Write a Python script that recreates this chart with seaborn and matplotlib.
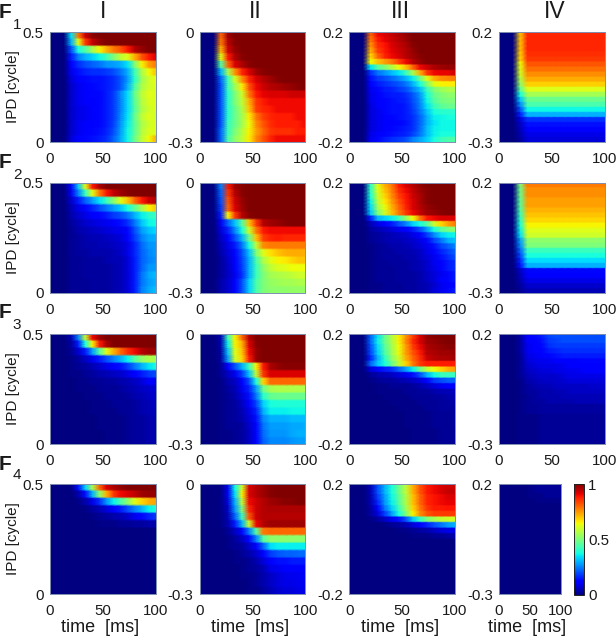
import numpy as np
import matplotlib
matplotlib.use('Agg')
import matplotlib.pyplot as plt
import seaborn as sns

# response values in percent, rows run top to bottom of each panel
# columns are t = 20, 26.7, 33.3 ... 100 ms, everything before 20 ms is zero
N_LEAD = 3
N_STORED = 13
ZERO = [0] * N_STORED

f1_i = [
    [35,78,93,99,100,100,100,100,100,100,100,100,100],
    [30,62,85,94,98,100,100,100,100,100,100,100,100],
    [20,38,45,55,65,72,78,82,88,95,98,100,100],
    [15,25,30,33,37,42,50,58,62,72,82,88,92],
    [12,17,20,22,24,27,28,30,35,50,65,74,78],
    [10,14,16,17,17,18,20,24,30,42,56,64,70],
    [8,12,13,14,14,15,17,21,28,40,54,60,63],
    [7,10,12,13,14,15,17,21,30,44,56,60,62],
    [7,10,12,13,13,15,18,26,34,47,58,62,62],
    [7,10,11,12,13,15,18,25,34,46,57,61,62],
    [7,9,10,12,13,15,18,25,34,45,56,60,62],
    [7,9,10,12,13,15,18,26,35,47,58,62,60],
    [7,10,11,12,13,15,19,27,36,46,56,60,62],
    [7,10,12,13,14,16,20,28,37,46,57,61,62],
    [8,11,13,14,15,17,22,29,37,48,58,64,72],
]
f1_ii = [
    [80,97,100,100,100,100,100,100,100,100,100,100,100],
    [78,95,99,100,100,100,100,100,100,100,100,100,100],
    [72,93,98,100,100,100,100,100,100,100,100,100,100],
    [62,88,96,99,100,100,100,100,100,100,100,100,100],
    [45,80,92,96,99,100,100,100,100,100,100,100,100],
    [30,55,75,87,92,97,99,100,100,100,100,100,100],
    [22,42,60,75,87,92,95,97,99,100,100,100,100],
    [20,42,54,66,82,90,93,95,96,97,98,99,100],
    [20,40,50,60,78,88,91,92,92,92,93,93,93],
    [20,40,50,58,72,85,88,90,90,90,90,90,90],
    [20,40,48,56,70,84,87,88,90,90,90,90,90],
    [20,40,48,55,66,78,84,87,88,88,88,90,90],
    [20,42,48,55,64,76,82,86,88,88,88,88,90],
    [22,42,50,57,65,74,80,85,86,86,86,88,88],
    [22,44,52,58,66,76,82,87,90,90,90,90,90],
]
f1_iii = [
    [80,90,92,94,96,98,100,100,100,100,100,100,100],
    [78,88,91,93,95,97,100,100,100,100,100,100,100],
    [75,86,89,92,94,96,99,100,100,100,100,100,100],
    [72,84,88,91,93,95,98,100,100,100,100,100,100],
    [68,80,87,90,92,95,97,99,100,100,100,100,100],
    [64,70,74,78,84,90,95,98,100,100,100,100,100],
    [35,45,50,57,64,70,80,90,93,96,97,98,98],
    [17,24,27,31,35,42,55,72,85,90,91,91,93],
    [14,18,20,23,26,30,36,48,62,72,76,77,78],
    [12,15,17,19,21,24,30,38,50,62,65,66,66],
    [10,13,15,16,18,20,25,31,42,50,54,56,56],
    [9,12,14,15,15,17,21,27,38,47,50,52,52],
    [9,12,13,14,15,16,20,26,37,45,49,50,50],
    [8,11,13,14,14,15,19,25,35,42,46,48,48],
    [8,10,13,14,14,15,18,24,32,38,40,40,40],
    [8,10,12,13,14,15,17,22,30,36,37,38,38],
    [8,10,11,12,13,14,17,22,30,35,37,37,37],
    [8,10,12,13,14,15,17,23,31,36,37,37,37],
    [9,11,13,14,15,16,19,24,31,36,38,38,38],
    [10,13,15,17,18,20,25,29,33,38,42,44,45],
]
f1_iv = [
    [70]+[87]*12, [70]+[87]*12, [70]+[87]*12, [70]+[87]*12, [69]+[86]*12,
    [68]+[85]*12, [64]+[82]*12, [62]+[79]*12, [60]+[76]*12, [56]+[73]*12,
    [52]+[69]*12, [46]+[62]*12, [38]+[55]*12, [32]+[48]*12, [26]+[44]*12,
    [20]+[37]*12, [15]+[30]*12, [8]+[17]*12, [6]+[14]*12, [5]+[12]*12,
    [4]+[9]*12, [3]+[8]*12,
]

f2_i = [
    [12,32,62,88,96,100,100,100,100,100,100,100,100],
    [10,25,42,62,78,88,94,97,99,100,100,100,100],
    [7,15,22,28,35,42,52,62,70,80,88,93,95],
    [5,9,13,16,20,24,28,32,38,46,55,65,70],
    [4,7,9,11,13,15,18,20,24,30,36,40,42],
    [3,5,7,8,9,10,12,14,17,24,32,37,38],
    [2,4,5,6,7,8,9,10,13,20,28,32,34],
    [2,3,4,5,5,6,7,8,11,18,25,29,30],
    [2,3,4,4,5,5,6,7,9,16,23,27,28],
    [2,3,3,4,4,4,5,6,9,16,22,26,28],
    [2,2,3,3,3,4,5,5,8,15,22,25,27],
    [2,2,3,3,3,3,4,5,8,15,22,27,28],
    [2,2,3,3,3,3,4,5,8,15,24,29,31],
    [2,2,2,3,3,3,4,5,8,15,24,28,30],
    [2,2,2,3,3,3,4,5,8,15,25,29,32],
]
f2_ii = [
    [25,88,97,99,100,100,100,100,100,100,100,100,100],
    [22,85,95,99,100,100,100,100,100,100,100,100,100],
    [20,82,93,98,100,100,100,100,100,100,100,100,100],
    [18,80,92,97,100,100,100,100,100,100,100,100,100],
    [15,65,85,95,99,100,100,100,100,100,100,100,100],
    [10,22,32,45,70,85,95,97,98,99,100,100,100],
    [8,16,26,38,60,78,88,90,90,90,90,90,90],
    [6,12,20,30,48,70,84,87,88,87,87,87,87],
    [5,9,15,24,38,58,76,78,78,78,78,78,78],
    [4,8,13,20,32,50,62,67,70,72,73,73,72],
    [3,7,12,19,30,44,56,62,65,66,68,70,70],
    [3,6,11,18,30,42,52,58,61,62,64,64,64],
    [3,6,10,17,30,42,50,55,56,57,58,60,60],
    [4,7,12,20,33,44,50,53,54,55,55,56,56],
    [4,7,12,20,33,44,50,52,52,52,53,53,53],
]
f2_iii = [
    [40,63,72,78,88,92,95,98,100,100,100,100,100],
    [40,62,70,77,86,90,94,97,99,100,100,100,100],
    [38,60,68,76,84,89,93,96,99,100,100,100,100],
    [36,58,66,74,82,88,92,96,99,100,100,100,100],
    [34,55,63,72,80,87,92,95,98,99,100,100,100],
    [32,50,60,70,78,85,90,94,97,98,99,100,100],
    [15,30,33,36,42,52,64,78,88,90,92,92,92],
    [5,9,12,15,20,25,33,38,45,60,68,74,78],
    [3,5,6,8,10,12,15,20,28,38,46,50,52],
    [2,3,4,5,6,7,9,12,18,26,33,36,37],
    [2,3,4,5,5,6,7,9,13,19,24,30,32],
    [1,2,3,4,4,5,6,8,10,14,19,22,26],
    [1,2,3,3,4,4,5,6,9,12,16,19,22],
    [1,2,3,3,3,4,4,6,8,10,14,17,20],
    [1,2,2,3,3,3,4,5,7,10,12,15,17],
    [1,2,2,2,3,3,4,5,7,9,12,15,17],
    [1,2,2,2,3,3,3,4,6,8,10,13,15],
    [1,2,2,2,3,3,3,4,6,8,11,13,15],
    [1,1,2,2,2,3,3,4,5,7,10,12,13],
    [1,1,2,2,2,3,3,4,5,8,10,13,15],
]
f2_iv = [
    [50]+[78]*12, [48]+[76]*12, [48]+[76]*12, [46]+[74]*12, [46]+[74]*12,
    [44]+[72]*12, [42]+[70]*12, [40]+[68]*12, [38]+[65]*12, [36]+[62]*12,
    [34]+[60]*12, [28]+[52]*12, [26]+[50]*12, [22]+[42]*12, [19]+[38]*12,
    [16]+[34]*12, [14]+[30]*12, [6]+[13]*12, [5]+[11]*12, [4]+[9]*12,
    [3]+[7]*12, [2]+[5]*12,
]

f3_i = [
    [5,25,58,90,97,100,100,100,100,100,100,100,100],
    [3,15,38,65,88,96,100,100,100,100,100,100,100],
    [2,7,15,28,45,62,72,80,86,90,95,97,97],
    [1,3,6,10,15,20,25,30,36,45,52,56,55],
    [1,2,3,5,7,9,12,14,18,24,30,35,38],
    [1,1,2,3,4,5,6,7,9,11,15,18,20],
    [0,1,1,2,2,3,3,4,5,6,8,11,12],
    [0,1,1,1,2,2,2,3,4,5,6,7,8],
    [0,0,1,1,1,2,2,2,3,4,5,6,7],
    [0,0,0,1,1,1,2,2,2,3,4,5,6],
    [0,0,0,1,1,1,1,2,2,3,4,5,5],
    [0,0,0,0,1,1,1,1,2,3,3,4,5],
    [0,0,0,0,1,1,1,1,2,3,3,4,4],
    [0,0,0,0,0,1,1,1,2,3,3,4,4],
    [0,0,0,0,0,1,1,1,2,3,3,4,4],
]
f3_ii = [
    [5,42,65,80,95,100,100,100,100,100,100,100,100],
    [4,36,65,72,92,99,100,100,100,100,100,100,100],
    [3,32,62,70,90,98,100,100,100,100,100,100,100],
    [3,28,60,68,88,98,100,100,100,100,100,100,100],
    [2,12,20,30,42,65,88,96,98,99,99,99,99],
    [2,6,10,18,32,58,85,92,92,92,92,92,92],
    [1,4,6,12,20,38,68,80,80,80,80,80,80],
    [1,3,5,10,16,28,48,55,56,56,56,56,56],
    [1,2,4,8,14,24,40,47,48,48,48,48,48],
    [1,2,3,6,11,19,33,38,39,39,39,39,39],
    [1,2,3,5,9,16,30,36,36,36,37,37,37],
    [1,2,3,4,8,14,26,30,30,30,31,31,31],
    [1,2,2,3,7,12,24,28,28,28,29,29,30],
    [1,1,2,3,6,11,23,27,27,27,29,30,30],
    [1,1,2,3,6,11,22,26,26,26,27,28,28],
]
f3_iii = [
    [22,35,47,57,65,75,84,92,98,99,100,100,100],
    [22,36,47,56,65,76,86,92,97,98,99,100,100],
    [20,34,45,55,64,74,84,90,96,97,98,99,99],
    [19,33,44,54,63,74,82,88,95,96,97,97,98],
    [16,30,40,52,60,72,80,86,93,95,96,96,97],
    [22,32,38,48,58,68,78,85,88,88,88,88,88],
    [8,13,15,17,22,28,36,48,58,64,68,72,74],
    [2,4,5,6,8,10,14,20,30,37,42,42,42],
    [1,2,3,3,4,5,6,8,12,18,20,22,22],
    [0,1,1,2,2,2,3,4,6,8,10,12,12],
    [0,1,1,1,1,2,2,3,3,4,5,5,6],
    [0,0,1,1,1,1,2,2,2,3,3,4,4],
    [0,0,0,1,1,1,1,2,2,2,3,3,4],
    [0,0,0,0,1,1,1,1,2,2,3,3,3],
    [0,0,0,0,0,1,1,1,1,2,2,2,3],
    [0,0,0,0,0,1,1,1,1,2,2,2,3],
    [0,0,0,0,0,1,1,1,1,2,2,2,3],
    [0,0,0,0,0,0,1,1,1,1,2,2,2],
    [0,0,0,0,0,0,1,1,1,1,2,2,2],
    [0,0,0,0,0,0,1,1,1,1,2,2,2],
]
f3_iv = [
    [3,12,13,15,19,20,20,20,20,20,20,20,20],
    [3,11,12,14,18,19,20,20,20,20,20,20,20],
    [3,10,12,13,17,18,18,18,18,18,18,18,18],
    [3,10,11,12,15,16,17,17,17,17,17,17,17],
    [2,9,10,11,13,14,15,15,15,15,15,15,15],
    [2,8,9,10,10,11,12,12,12,13,13,13,13],
    [2,7,8,9,9,9,10,11,11,12,12,12,12],
    [2,6,7,8,8,9,9,10,10,11,11,11,11],
    [2,5,6,7,7,7,8,9,9,9,9,9,9],
    [1,4,5,6,6,7,7,8,8,8,8,8,8],
    [1,3,4,5,5,6,6,6,6,6,7,7,7],
    [1,3,3,4,4,5,5,6,6,6,6,6,6],
    [1,2,3,4,4,4,5,5,5,5,5,5,5],
    [1,2,3,3,4,4,4,4,5,5,5,5,5],
    [1,2,2,3,3,3,3,3,3,3,3,3,3],
    [1,2,2,3,3,3,3,3,3,3,3,3,3],
    [1,1,1,2,2,2,2,2,2,2,2,2,2],
    [1,1,1,2,2,2,2,2,2,2,2,2,2],
    [1,1,1,2,2,2,2,2,2,2,2,2,2],
    [1,1,1,2,2,2,2,2,2,2,2,2,2],
    [1,1,1,2,2,2,2,2,2,2,2,2,2],
    [1,1,1,2,2,2,2,2,2,2,2,2,2],
]

f4_i = [
    [1,14,33,55,80,92,96,98,100,100,100,100,100],
    [0,4,14,30,52,72,85,90,92,94,97,98,98],
    [0,1,4,9,17,27,36,44,52,62,68,72,74],
    [0,0,1,3,5,8,11,15,20,25,30,36,38],
    [0,0,0,1,2,3,4,5,7,10,13,16,18],
    [0,0,0,0,1,1,1,2,2,3,3,4,4],
    ZERO, ZERO, ZERO, ZERO, ZERO, ZERO, ZERO, ZERO, ZERO,
]
f4_ii = [
    [1,10,37,60,92,95,97,99,100,100,100,100,100],
    [1,10,34,65,92,95,97,99,100,100,100,100,100],
    [1,8,30,58,90,93,95,97,98,99,99,100,100],
    [1,6,27,50,87,93,95,96,96,96,96,96,96],
    [1,5,22,42,82,93,95,95,95,95,95,95,95],
    [1,4,15,30,60,90,95,97,97,97,97,97,97],
    [0,2,6,13,25,45,78,80,80,80,80,80,80],
    [0,1,3,6,13,25,45,52,52,52,52,52,52],
    [0,1,2,3,7,12,22,34,36,36,36,36,36],
    [0,0,1,2,4,7,12,18,21,22,22,23,23],
    [0,0,1,1,2,4,8,12,14,14,15,15,15],
    [0,0,0,1,2,3,5,9,10,11,12,12,12],
    [0,0,0,1,1,2,4,6,8,9,10,10,11],
    [0,0,0,0,1,2,4,6,8,9,9,10,10],
    [0,0,0,0,1,1,3,5,7,8,8,9,9],
]
f4_iii = [
    [5,20,30,38,48,58,72,82,88,90,92,93,93],
    [5,20,30,38,48,58,72,82,88,90,92,94,94],
    [4,18,28,37,46,56,70,80,87,89,90,92,92],
    [4,16,27,36,45,56,70,80,87,89,90,91,91],
    [3,12,24,33,42,54,68,78,85,88,88,89,89],
    [3,8,18,28,38,50,65,76,82,85,85,85,85],
    [1,3,6,10,14,20,32,42,50,55,58,60,60],
    [0,0,1,2,3,5,8,12,16,20,24,28,30],
    [0,0,0,0,1,1,2,3,4,6,8,9,10],
    [0,0,0,0,0,0,1,1,1,2,2,3,4],
    ZERO, ZERO, ZERO, ZERO, ZERO, ZERO, ZERO, ZERO, ZERO, ZERO,
]
f4_iv = [
    [0,0,0,0,1,1,2,2,2,2,2,2,2],
    [0,0,0,0,1,1,2,2,2,2,2,2,2],
    [0,0,0,0,1,1,1,1,2,2,2,2,2],
    [0,0,0,0,0,0,1,1,1,1,1,1,1],
    ZERO, ZERO, ZERO, ZERO, ZERO, ZERO, ZERO, ZERO, ZERO,
    ZERO, ZERO, ZERO, ZERO, ZERO, ZERO, ZERO, ZERO, ZERO,
]

panels = [
    [f1_i, f1_ii, f1_iii, f1_iv],
    [f2_i, f2_ii, f2_iii, f2_iv],
    [f3_i, f3_ii, f3_iii, f3_iv],
    [f4_i, f4_ii, f4_iii, f4_iv],
]
column_titles = ['I', 'II', 'III', 'IV']
row_labels = ['1', '2', '3', '4']
ipd_top = ['0.5', '0', '0.2', '0.2']
ipd_bottom = ['0', '-0.3', '-0.2', '-0.3']
time_ticks = [0, 50, 100]

W, H = 616, 639
LEFTS = [50, 199.7, 349.3, 499]
TOPS = [32, 183, 334, 484]
PANEL_W, PANEL_H = 105.7, 110
ROW_REPEAT = 4  # keeps the IPD bands blocky under gouraud shading

sns.set_theme(style='white')
plt.rcParams['font.family'] = ['Liberation Sans', 'DejaVu Sans']
plt.rcParams['text.color'] = '#1a1a1a'


def panel_axes(fig, left, top, width, height):
    return fig.add_axes([left / W, 1 - (top + height) / H, width / W, height / H])


def px_text(fig, x, y, s, **kw):
    kw.setdefault('va', 'center')
    fig.text(x / W, 1 - y / H, s, ha='center', **kw)


fig = plt.figure(figsize=(W / 100, H / 100), dpi=100)

for r, row in enumerate(panels):
    for c, values in enumerate(row):
        arr = np.array(values, dtype=float) / 100
        arr = np.hstack([np.zeros((arr.shape[0], N_LEAD)), arr])
        arr = np.repeat(arr, ROW_REPEAT, axis=0)

        last = (r == 3 and c == 3)
        width = 62 if last else PANEL_W
        ax = panel_axes(fig, LEFTS[c], TOPS[r], width, PANEL_H)
        cax = panel_axes(fig, 574, 484, 10, 111) if last else None
        sns.heatmap(arr, ax=ax, cmap='jet', vmin=0, vmax=1, shading='gouraud',
                    cbar=last, cbar_ax=cax, xticklabels=False, yticklabels=False)

        n_rows, n_cols = arr.shape
        ax.set_xlim(0, n_cols - 1)
        ax.set_ylim(n_rows - 1, 0)
        ax.set_xticks([t / 100 * (n_cols - 1) for t in time_ticks])
        ax.set_xticklabels([str(t) for t in time_ticks], fontsize=10.8)
        ax.set_yticks([0, n_rows - 1])
        ax.set_yticklabels([ipd_top[c], ipd_bottom[c]], fontsize=10.8, rotation=0)
        ax.tick_params(axis='x', length=0, pad=7, colors='#1a1a1a')
        ax.tick_params(axis='y', length=0, pad=4.5, colors='#1a1a1a')
        for side in ax.spines.values():
            side.set_visible(True)
            side.set_color('#7f8fb0')
            side.set_linewidth(0.7)

        if last:
            cb = ax.collections[0].colorbar
            cb.set_ticks([0, 0.5, 1])
            cb.set_ticklabels(['0', '0.5', '1'], fontsize=10.8)
            cb.ax.tick_params(length=0, pad=3, colors='#1a1a1a')
            cb.outline.set_visible(True)
            cb.outline.set_linewidth(0.7)
            cb.outline.set_edgecolor('#222222')

    # row letter with its subscript, and the shared y label
    letter_y = [12, 163, 313, 464][r]
    px_text(fig, 5, letter_y, 'F', fontsize=15, fontweight='bold')
    px_text(fig, 17, [25, 175, 325, 475][r], row_labels[r], fontsize=11)
    px_text(fig, 13, TOPS[r] + PANEL_H / 2, 'IPD [cycle]', fontsize=11, rotation=90)

for x, title in zip([103, 255.7, 400.7, 555], column_titles):
    px_text(fig, x, 17.5, title, fontsize=16.5, va='baseline')
for x in [100, 250, 400, 527]:
    px_text(fig, x, 628, 'time  [ms]', fontsize=13)

fig.savefig('out.png', dpi=100)
